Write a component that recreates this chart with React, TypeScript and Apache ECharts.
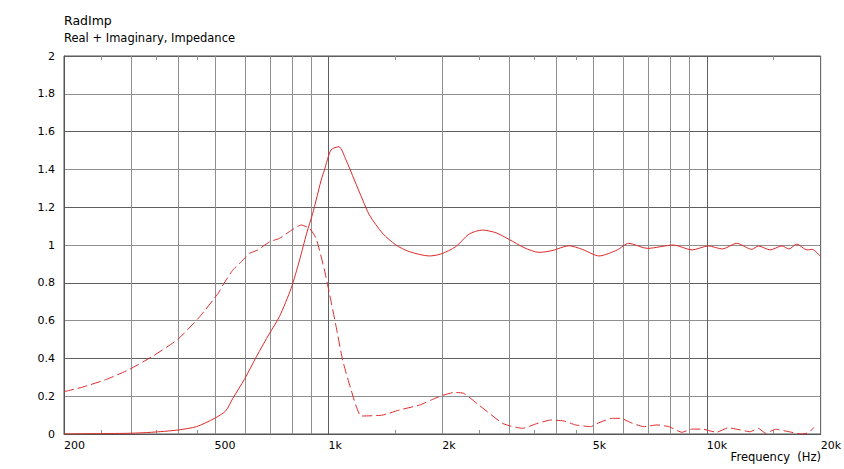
import React, { useEffect, useRef } from "react";
import * as echarts from "echarts";

const realFreq = [200, 250, 300, 340, 400, 448, 500, 535, 559, 600, 645, 699, 742, 797, 839, 876, 909, 928, 957, 976, 1016, 1065, 1113, 1171, 1232, 1283, 1390, 1508, 1636, 1847, 1980, 2170, 2355, 2550, 2770, 3000, 3290, 3600, 3900, 4320, 4690, 5190, 5800, 6220, 6970, 8170, 9140, 10100, 11000, 12000, 13150, 13700, 14700, 15800, 16500, 17300, 18400, 19000, 20000];
const realVal = [0.0, 0.002, 0.004, 0.009, 0.021, 0.039, 0.083, 0.122, 0.189, 0.29, 0.409, 0.533, 0.621, 0.771, 0.921, 1.062, 1.168, 1.238, 1.344, 1.397, 1.503, 1.52, 1.45, 1.344, 1.238, 1.159, 1.062, 1.0, 0.965, 0.942, 0.952, 0.991, 1.058, 1.079, 1.065, 1.03, 0.986, 0.961, 0.97, 0.996, 0.977, 0.942, 0.974, 1.009, 0.982, 1.0, 0.974, 0.995, 0.979, 1.009, 0.977, 0.995, 0.974, 0.995, 0.979, 1.005, 0.974, 0.977, 0.938];

const imagFreq = [200, 223, 259, 298, 344, 400, 457, 511, 526, 559, 589, 619, 651, 699, 742, 789, 847, 891, 928, 976, 1006, 1048, 1090, 1148, 1220, 1390, 1540, 1740, 1870, 1980, 2150, 2280, 2500, 2630, 2880, 3030, 3260, 3530, 3870, 4190, 4500, 4930, 5190, 5630, 5920, 6350, 6820, 7390, 7940, 8600, 9140, 9800, 10600, 11400, 12300, 13000, 13700, 14300, 15200, 16500, 17800, 18600, 19200];
const imagVal = [0.224, 0.247, 0.289, 0.342, 0.413, 0.501, 0.621, 0.744, 0.788, 0.868, 0.912, 0.956, 0.974, 1.017, 1.035, 1.071, 1.106, 1.088, 1.035, 0.868, 0.744, 0.568, 0.392, 0.233, 0.095, 0.1, 0.127, 0.153, 0.18, 0.201, 0.22, 0.215, 0.153, 0.118, 0.057, 0.042, 0.03, 0.053, 0.074, 0.069, 0.048, 0.039, 0.06, 0.083, 0.083, 0.057, 0.039, 0.048, 0.039, 0.009, 0.026, 0.025, 0.009, 0.033, 0.021, 0.012, 0.03, 0.004, 0.025, 0.012, 0.0, 0.007, 0.035];

const gridFreqs = [300, 400, 500, 600, 700, 800, 900, 1000, 2000, 3000, 4000, 5000, 6000, 7000, 8000, 9000, 10000];
const minorTickFreqs = [250, 350, 450, 1500, 2500, 3500, 4500, 15000];
const xLabelFreqs = [200, 500, 1000, 2000, 5000, 10000, 20000];

const title = "RadImp";
const subtitle = "Real + Imaginary, Impedance";
const xName = "Frequency  (Hz)";

const FONT = "DejaVu Sans";
const RED = "#dd2a2a";

export default function App() {
  const ref = useRef<HTMLDivElement>(null);
  useEffect(() => {
    if (!ref.current) return;
    const chart = echarts.init(ref.current, null, { renderer: "svg" });
    const lg = (f: number) => Math.log10(f);
    const crisp = (v: number) => Math.round(v) + 0.5;
    chart.setOption({
      animation: false,
      backgroundColor: "#fff",
      grid: { left: 64, right: 22, top: 56, bottom: 35, show: true, borderColor: "#555", borderWidth: 1, containLabel: false },
      graphic: [
        { type: "text", left: 64, top: 14, style: { text: title, font: `12.5px "${FONT}"`, fill: "#000" } },
        { type: "text", left: 64, top: 32, style: { text: subtitle, font: `11.5px "${FONT}"`, fill: "#000" } },
        { type: "text", right: 23, top: 451, style: { text: xName, font: `11.5px "${FONT}"`, fill: "#000" } },
      ],
      xAxis: {
        type: "value",
        min: lg(200),
        max: lg(20000),
        axisLine: { show: true, lineStyle: { color: "#555" } },
        axisTick: { show: false },
        splitLine: { show: false },
        axisLabel: {
          customValues: xLabelFreqs.map(lg),
          formatter: (v: number) => {
            const f = Math.round(Math.pow(10, v));
            return f >= 1000 ? f / 1000 + "k" : String(f);
          },
          align: "left",
          margin: 6,
          color: "#000",
          fontSize: 11,
          fontFamily: FONT,
        },
      },
      yAxis: {
        type: "value",
        min: 0,
        max: 2,
        interval: 0.2,
        axisLine: { show: true, lineStyle: { color: "#555" } },
        axisTick: { show: false },
        splitLine: { show: true, lineStyle: { color: ["#5f5f5f", "#8f8f8f"], width: 1 } },
        axisLabel: { color: "#000", fontSize: 11, fontFamily: FONT, margin: 9 },
      },
      series: [
        {
          type: "custom",
          z: 1,
          silent: true,
          data: gridFreqs.map((f) => [lg(f), 0]),
          encode: { x: 0, y: 1 },
          renderItem: (params: any, api: any) => {
            const xv = api.value(0);
            const top = api.coord([xv, 2]);
            const bot = api.coord([xv, 0]);
            const major = Math.abs(xv - Math.round(xv)) < 1e-9;
            const x = crisp(top[0]);
            return {
              type: "line",
              shape: { x1: x, y1: top[1], x2: x, y2: bot[1] },
              style: { stroke: major ? "#5f5f5f" : "#8f8f8f", lineWidth: 1 },
            };
          },
        },
        {
          type: "custom",
          z: 1,
          silent: true,
          data: minorTickFreqs.map((f) => [lg(f), 0]),
          encode: { x: 0, y: 1 },
          renderItem: (params: any, api: any) => {
            const xv = api.value(0);
            const top = api.coord([xv, 2]);
            const bot = api.coord([xv, 0]);
            const x = crisp(top[0]);
            return {
              type: "group",
              children: [
                { type: "line", shape: { x1: x, y1: top[1], x2: x, y2: top[1] + 4 }, style: { stroke: "#8f8f8f", lineWidth: 1 } },
                { type: "line", shape: { x1: x, y1: bot[1], x2: x, y2: bot[1] - 4 }, style: { stroke: "#8f8f8f", lineWidth: 1 } },
              ],
            };
          },
        },
        {
          type: "line",
          z: 3,
          showSymbol: false,
          silent: true,
          smooth: 0.25,
          data: realFreq.map((f, i) => [lg(f), realVal[i]]),
          lineStyle: { color: RED, width: 1 },
          itemStyle: { color: RED },
        },
        {
          type: "line",
          z: 3,
          showSymbol: false,
          silent: true,
          smooth: 0.15,
          data: imagFreq.map((f, i) => [lg(f), imagVal[i]]),
          lineStyle: { color: RED, width: 1, type: [10, 4] },
          itemStyle: { color: RED },
        },
      ],
    });
    return () => chart.dispose();
  }, []);
  return <div ref={ref} style={{ position: "fixed", left: 0, top: 0, width: 844, height: 469 }} />;
}
